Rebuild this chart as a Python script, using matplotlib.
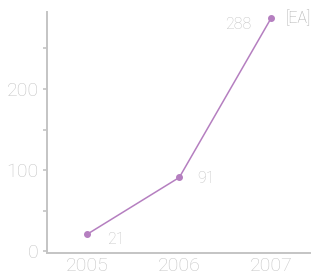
import matplotlib
matplotlib.use("Agg")
import matplotlib.pyplot as plt
from matplotlib.ticker import MultipleLocator

years = [2005, 2006, 2007]
values = [21, 91, 288]
point_labels = ["21", "91", "288"]
series_name = "[EA]"

grey = "#c4c4c4"
purple = "#b57fc0"

plt.rcParams['font.family'] = ['Roboto', 'DejaVu Sans']

fig = plt.figure(figsize=(3.12, 2.77), dpi=100)
ax = fig.add_axes([0.151, 0.087, 0.843, 0.87])

ax.plot(years, values, color=purple, lw=1.1, marker='o', ms=4)

# value labels next to points
lab_kw = dict(textcoords='offset points', fontsize=11.5, fontweight='light',
              ha='center', va='center')
ax.annotate(point_labels[0], (years[0], values[0]), xytext=(21, -4),
            color=grey, **lab_kw)
ax.annotate(point_labels[1], (years[1], values[1]), xytext=(19, -1),
            color=grey, **lab_kw)
ax.annotate(point_labels[2], (years[2], values[2]), xytext=(-24, -5),
            color=grey, **lab_kw)
ax.annotate(series_name, (years[2], values[2]), xytext=(19, 0),
            color="#acacac", **lab_kw)

ax.set_xlim(2004.565, 2007.42)
ax.set_ylim(-2, 295)
ax.set_xticks(years)
ax.yaxis.set_major_locator(MultipleLocator(100))
ax.yaxis.set_minor_locator(MultipleLocator(50))

for s in ['top', 'right']:
    ax.spines[s].set_visible(False)
for s in ['left', 'bottom']:
    ax.spines[s].set_color(grey)
    ax.spines[s].set_linewidth(1.4)

ax.tick_params(axis='x', length=0, colors=grey, labelsize=14, pad=3)
ax.tick_params(axis='y', which='both', length=3, width=1.2, color=grey,
               labelcolor=grey, labelsize=14, pad=3)
for lab in ax.get_xticklabels() + ax.get_yticklabels():
    lab.set_fontweight('light')

fig.savefig("out.png", dpi=100)
